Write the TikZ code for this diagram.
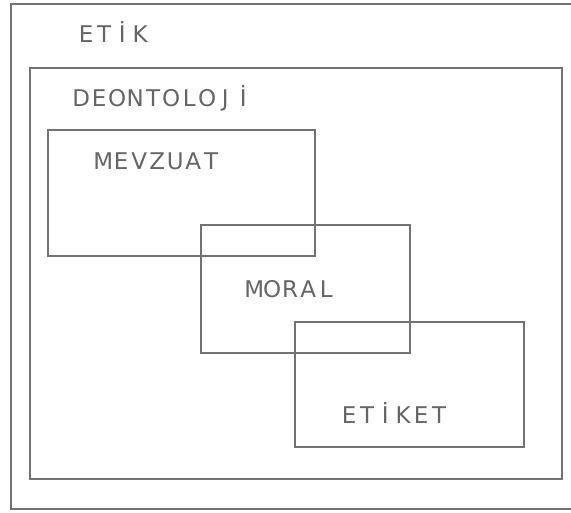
\documentclass[tikz,border=0pt]{standalone}
\usepackage{fontspec}
\setmainfont{DejaVu Sans}
\newcommand\gridtext[1]{\gridloop#1\relax}
\def\gridloop#1{\ifx#1\relax\else\makebox[18pt]{#1}\expandafter\gridloop\fi}
\tikzset{
  frame/.style={draw=black!55, line width=1.1pt, inner sep=0pt, outer sep=0pt, anchor=north west},
  lbl/.style={anchor=base west, inner sep=0pt, text=black!60, font=\fontsize{23}{23}\selectfont}
}
\begin{document}
\begin{tikzpicture}[x=1pt,y=-1pt]
\useasboundingbox (0,0) rectangle (571,513);
\fill[white] (0,0) rectangle (571,513);
\clip (0,0) rectangle (571,513);
\node[frame, minimum width=600pt, minimum height=505pt] (etik) at (11,4) {};
\node[frame, minimum width=532pt, minimum height=411pt] (deon) at (30,68) {};
\node[frame, minimum width=267pt, minimum height=126pt] (mevzuat) at (48,130) {};
\node[frame, minimum width=209pt, minimum height=128pt] (moral) at (201,225) {};
\node[frame, minimum width=229pt, minimum height=125pt] (etiket) at (295,322) {};
\node[lbl] (tetik) at (77,43) {\gridtext{ETİK}};
\node[lbl] (tdeon) at (72,107) {\gridtext{DEONTOLOJİ}};
\node[lbl] (tmevzuat) at (94,170) {\gridtext{MEVZUAT}};
\node[lbl] (tmoral) at (245,298) {\gridtext{MORAL}};
\node[lbl] (tetiket) at (340,424) {\gridtext{ETİKET}};
\end{tikzpicture}
\end{document}
